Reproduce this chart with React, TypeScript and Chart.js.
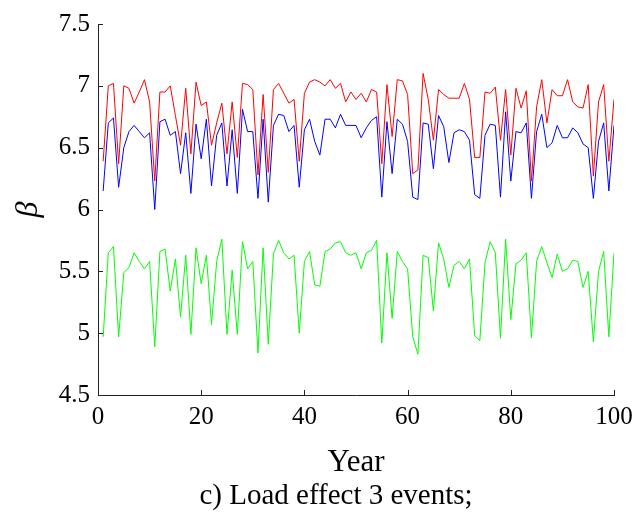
import React, { useEffect, useRef } from "react";
import { Chart, registerables } from "chart.js";

Chart.register(...registerables);

const years: number[] = Array.from({ length: 100 }, (_, i) => i + 1);

const redSeries: number[] = [
  6.39, 7.0, 7.02, 6.37, 7.0, 6.98, 6.86, 6.95, 7.05, 6.87,
  6.23, 6.95, 6.95, 7.0, 6.76, 6.52, 6.98, 6.45, 7.03, 6.84,
  6.87, 6.52, 6.7, 6.86, 6.45, 6.87, 6.42, 7.02, 7.01, 6.97,
  6.28, 6.93, 6.3, 6.97, 7.02, 6.94, 6.86, 6.89, 6.39, 6.94,
  7.03, 7.05, 7.03, 7.0, 7.05, 6.98, 7.02, 6.87, 6.95, 6.89,
  6.94, 6.87, 6.97, 6.95, 6.37, 7.01, 6.59, 7.05, 7.04, 6.93,
  6.29, 6.32, 7.1, 6.89, 6.56, 6.97, 6.93, 6.9, 6.9, 6.9,
  7.02, 6.89, 6.42, 6.42, 6.95, 6.94, 6.99, 6.56, 6.97, 6.44,
  6.98, 6.82, 6.96, 6.23, 6.83, 7.05, 6.7, 6.97, 6.92, 6.92,
  7.05, 6.87, 6.83, 6.82, 7.01, 6.27, 6.87, 7.01, 6.39, 6.89,
];

const blueSeries: number[] = [
  6.15, 6.7, 6.74, 6.18, 6.5, 6.63, 6.68, 6.63, 6.58, 6.62,
  6.0, 6.71, 6.73, 6.6, 6.63, 6.29, 6.62, 6.13, 6.69, 6.41,
  6.73, 6.19, 6.6, 6.7, 6.19, 6.645, 6.13, 6.81, 6.63, 6.63,
  6.09, 6.73, 6.06, 6.68, 6.77, 6.76, 6.63, 6.68, 6.18, 6.645,
  6.73, 6.55, 6.44, 6.73, 6.73, 6.66, 6.77, 6.68, 6.68, 6.68,
  6.58, 6.66, 6.72, 6.75, 6.1, 6.71, 6.29, 6.73, 6.69, 6.55,
  6.1, 6.08, 6.7, 6.69, 6.33, 6.76, 6.67, 6.38, 6.62, 6.645,
  6.63, 6.56, 6.12, 6.09, 6.6, 6.69, 6.68, 6.1, 6.79, 6.23,
  6.63, 6.62, 6.7, 6.09, 6.63, 6.77, 6.5, 6.54, 6.68, 6.58,
  6.58, 6.66, 6.62, 6.53, 6.5, 6.09, 6.55, 6.7, 6.15, 6.68,
];

const greenSeries: number[] = [
  4.97, 5.65, 5.7, 4.97, 5.49, 5.53, 5.65, 5.58, 5.52, 5.58,
  4.89, 5.66, 5.68, 5.34, 5.6, 5.13, 5.63, 4.99, 5.69, 5.4,
  5.63, 5.07, 5.58, 5.76, 4.99, 5.51, 4.99, 5.74, 5.52, 5.58,
  4.84, 5.69, 4.91, 5.64, 5.75, 5.65, 5.6, 5.63, 5.0, 5.58,
  5.66, 5.39, 5.38, 5.66, 5.68, 5.73, 5.74, 5.65, 5.63, 5.65,
  5.52, 5.65, 5.67, 5.75, 4.92, 5.65, 5.12, 5.66, 5.58, 5.52,
  4.97, 4.83, 5.63, 5.61, 5.18, 5.73, 5.6, 5.37, 5.55, 5.58,
  5.52, 5.6, 4.98, 4.94, 5.57, 5.74, 5.65, 4.96, 5.76, 5.11,
  5.56, 5.59, 5.65, 4.96, 5.58, 5.7, 5.57, 5.45, 5.64, 5.5,
  5.52, 5.59, 5.58, 5.37, 5.5, 4.93, 5.5, 5.66, 4.97, 5.65,
];

const xTicks: number[] = [0, 20, 40, 60, 80, 100];
const yTicks: number[] = [4.5, 5, 5.5, 6, 6.5, 7, 7.5];
const xTitle = "Year";
const yTitle = "\u03b2";
const caption = "c) Load effect 3 events;";

const FONT = "'Liberation Serif', 'Times New Roman', serif";

export default function App() {
  const ref = useRef<HTMLCanvasElement | null>(null);

  useEffect(() => {
    if (!ref.current) return;

    const innerTicks = {
      id: "innerTicks",
      afterDraw(chart: any) {
        const ctx = chart.ctx;
        const xs = chart.scales.x;
        const ys = chart.scales.y;
        const area = chart.chartArea;
        ctx.save();
        ctx.strokeStyle = "#222";
        ctx.lineWidth = 1;
        ctx.beginPath();
        xTicks.forEach((t) => {
          const px = Math.round(xs.getPixelForValue(t)) + 0.5;
          ctx.moveTo(px, area.bottom);
          ctx.lineTo(px, area.bottom - 5);
        });
        yTicks.forEach((t) => {
          const py = Math.round(ys.getPixelForValue(t)) + 0.5;
          ctx.moveTo(area.left, py);
          ctx.lineTo(area.left + 5, py);
        });
        ctx.stroke();
        ctx.fillStyle = "#000";
        ctx.font = `29px ${FONT}`;
        ctx.textAlign = "center";
        ctx.textBaseline = "middle";
        ctx.fillText(caption, 336, 496);
        ctx.restore();
      },
    };

    const mk = (data: number[], color: string) => ({
      data: years.map((x, i) => ({ x, y: data[i] })),
      borderColor: color,
      backgroundColor: color,
      borderWidth: 1,
      pointRadius: 0,
      fill: false,
      tension: 0,
    });

    const chart = new Chart(ref.current, {
      type: "line",
      data: {
        datasets: [
          mk(redSeries, "#ff0000"),
          mk(blueSeries, "#0000ff"),
          mk(greenSeries, "#00ff00"),
        ],
      },
      plugins: [innerTicks],
      options: {
        animation: false,
        responsive: false,
        maintainAspectRatio: false,
        layout: { padding: { left: 0, right: 26, top: 24, bottom: 0 } },
        plugins: {
          legend: { display: false },
          tooltip: { enabled: false },
          title: { display: false },
        },
        scales: {
          x: {
            type: "linear",
            min: 0,
            max: 100,
            afterBuildTicks: (s: any) => {
              s.ticks = xTicks.map((v) => ({ value: v }));
            },
            afterFit: (s: any) => {
              s.height = 120;
            },
            grid: { display: false, drawTicks: false },
            border: { display: true, color: "#222", width: 1 },
            ticks: {
              color: "#000",
              font: { family: FONT, size: 25 },
              padding: 7,
              maxRotation: 0,
              callback: (v: any) => String(v),
            },
            title: {
              display: true,
              text: xTitle,
              color: "#000",
              font: { family: FONT, size: 31 },
              padding: { top: 0, bottom: 34 },
            },
          },
          y: {
            type: "linear",
            min: 4.5,
            max: 7.5,
            afterBuildTicks: (s: any) => {
              s.ticks = yTicks.map((v) => ({ value: v }));
            },
            afterFit: (s: any) => {
              s.width = 98;
            },
            grid: { display: false, drawTicks: false },
            border: { display: true, color: "#222", width: 1 },
            ticks: {
              color: "#000",
              font: { family: FONT, size: 25 },
              padding: 8,
              callback: (v: any) => String(v),
            },
            title: {
              display: true,
              text: yTitle,
              color: "#000",
              font: { family: FONT, size: 32, style: "italic" },
              padding: { top: 9, bottom: 0 },
            },
          },
        },
      },
    } as any);

    return () => chart.destroy();
  }, []);

  return (
    <div style={{ position: "fixed", left: 0, top: 0, width: 640, height: 515, background: "#fff" }}>
      <canvas ref={ref} width={640} height={515} style={{ width: 640, height: 515, display: "block" }} />
    </div>
  );
}
